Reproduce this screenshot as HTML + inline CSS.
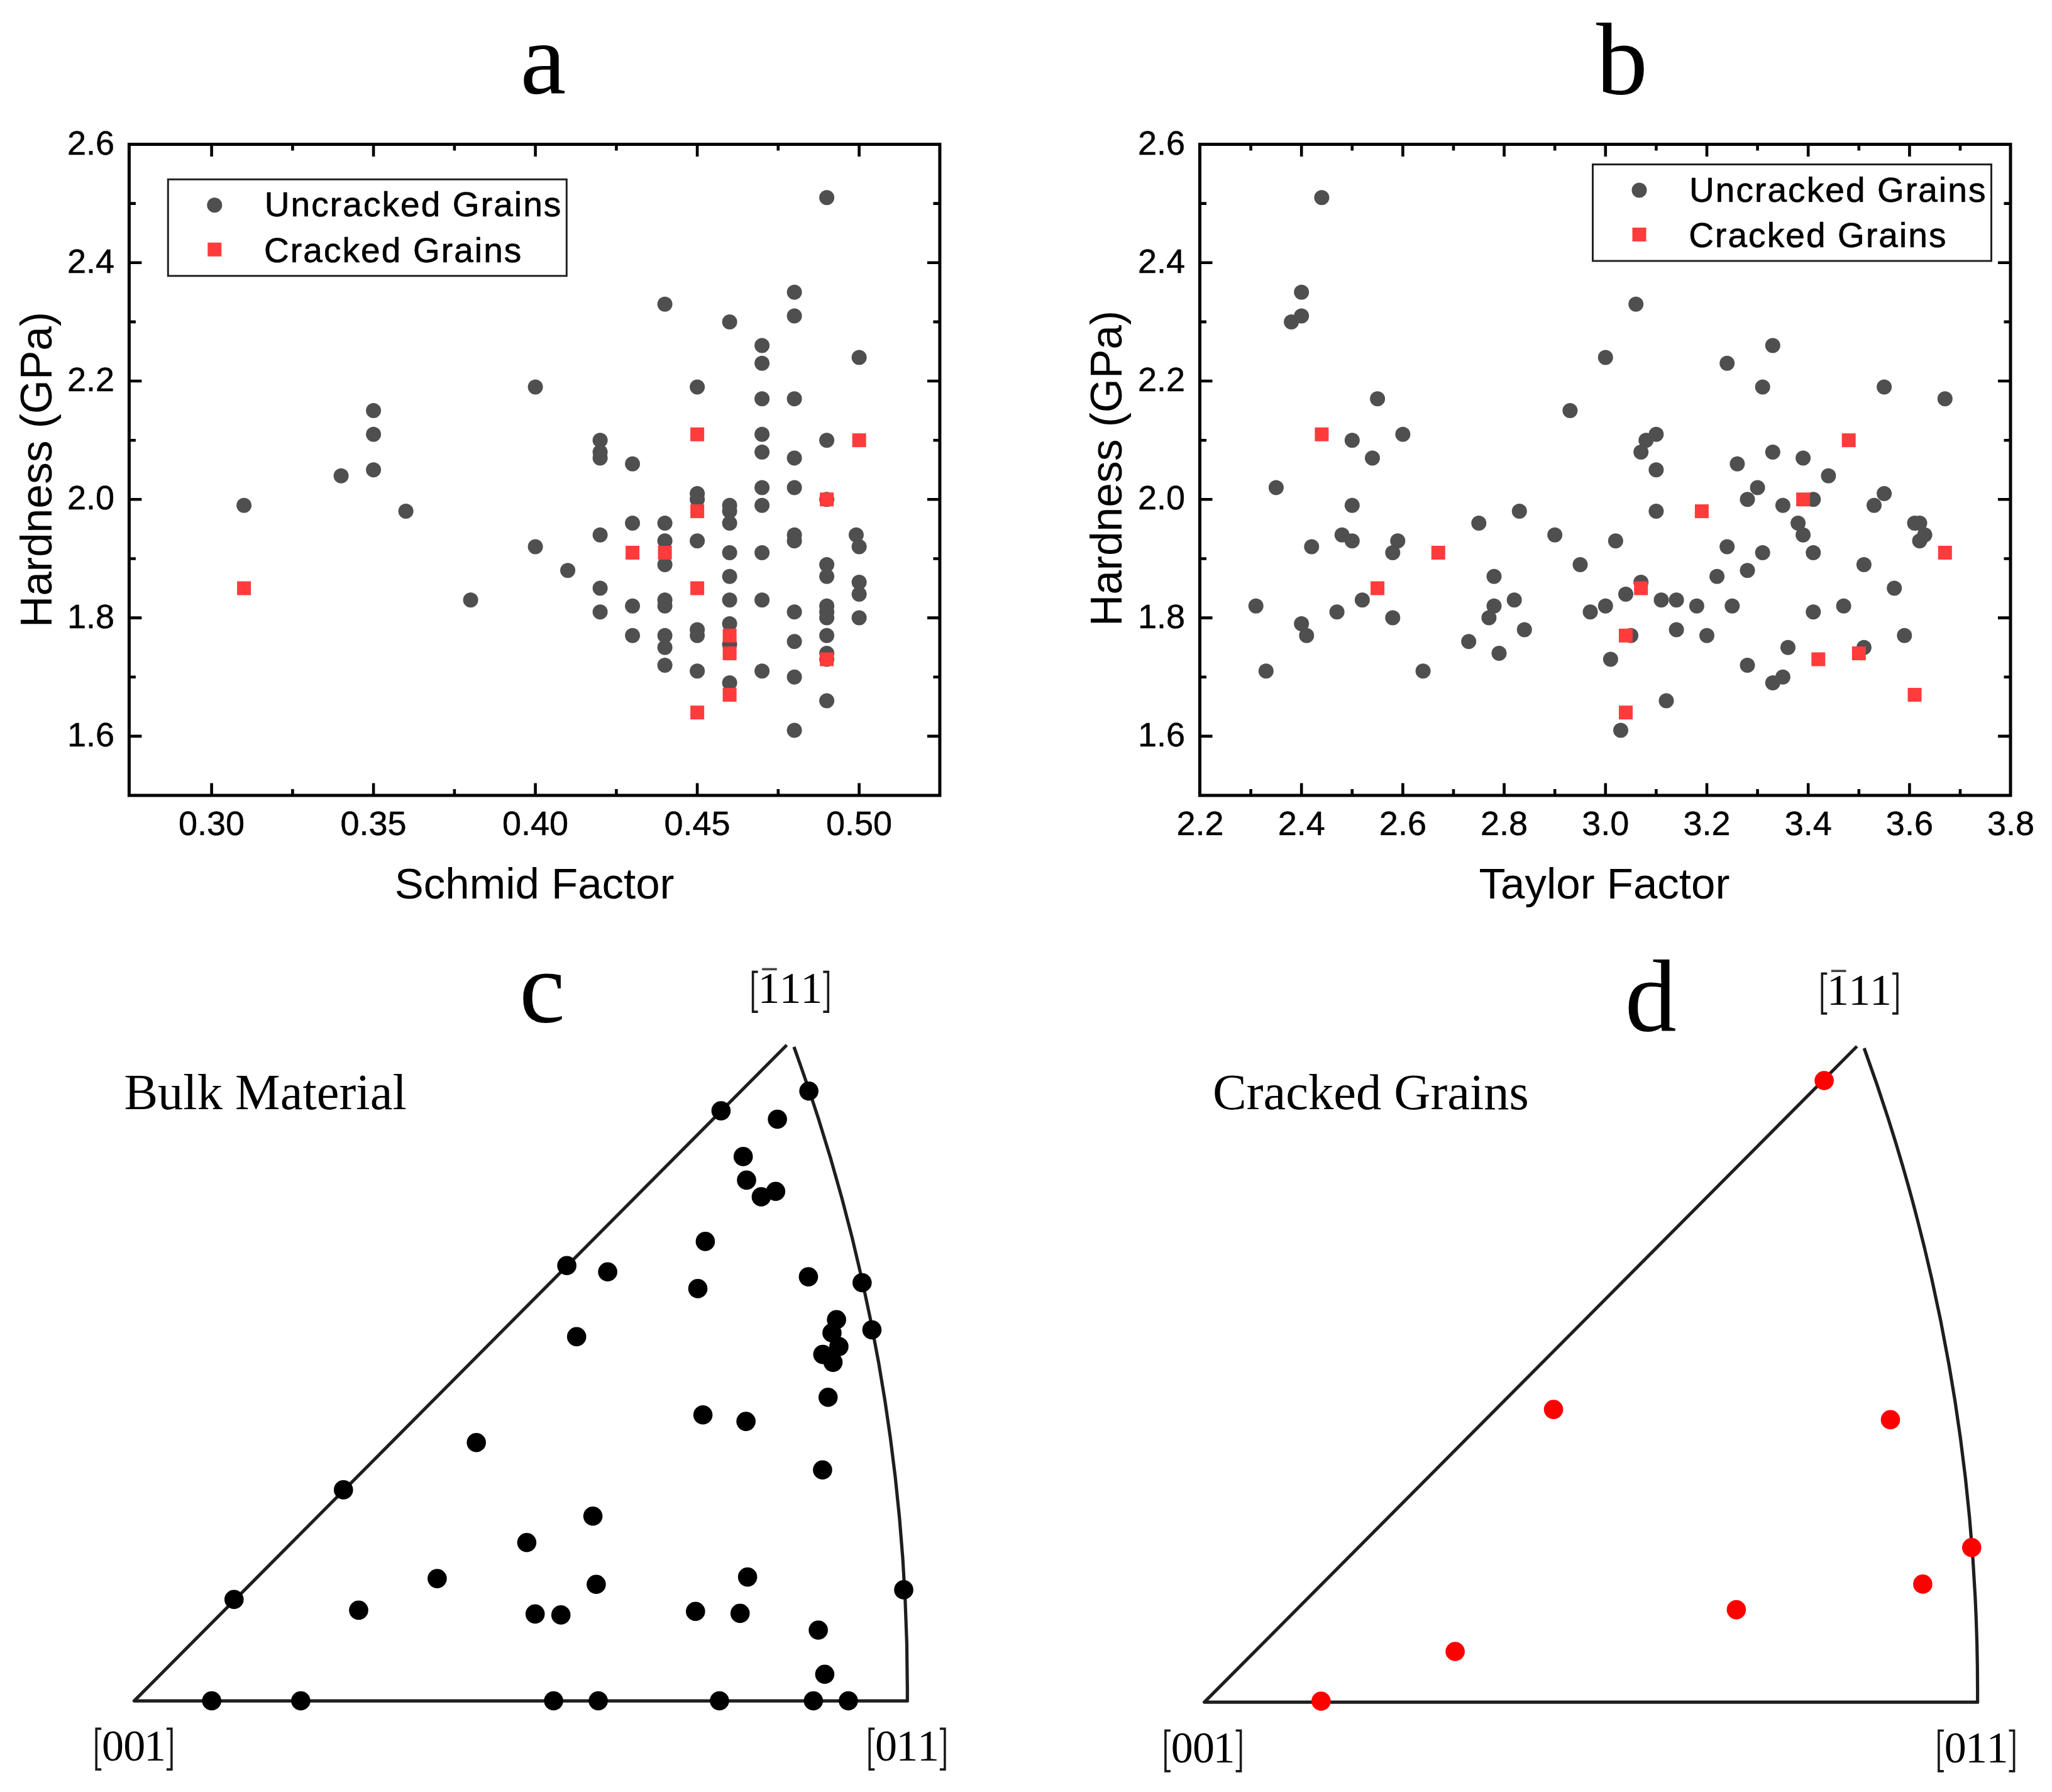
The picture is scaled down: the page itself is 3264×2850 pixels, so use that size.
<!DOCTYPE html>
<html><head><meta charset="utf-8"><style>html,body{margin:0;padding:0;background:#fff;}svg{display:block;}</style></head>
<body><svg width="3264" height="2850" viewBox="0 0 3264 2850"><rect x="205.4" y="229.5" width="1289.5" height="1035.5" fill="none" stroke="#000" stroke-width="5.0"/>
<path d="M336.6 1265.0V1245.5M336.6 229.5V249.0M594.1 1265.0V1245.5M594.1 229.5V249.0M851.6 1265.0V1245.5M851.6 229.5V249.0M1109.1 1265.0V1245.5M1109.1 229.5V249.0M1366.6 1265.0V1245.5M1366.6 229.5V249.0M465.4 1265.0V1255.0M465.4 229.5V239.5M722.9 1265.0V1255.0M722.9 229.5V239.5M980.4 1265.0V1255.0M980.4 229.5V239.5M1237.8 1265.0V1255.0M1237.8 229.5V239.5M205.4 1170.9H225.4M1494.9 1170.9H1474.9M205.4 982.6H225.4M1494.9 982.6H1474.9M205.4 794.3H225.4M1494.9 794.3H1474.9M205.4 606.0H225.4M1494.9 606.0H1474.9M205.4 417.8H225.4M1494.9 417.8H1474.9M205.4 1076.7H215.9M1494.9 1076.7H1484.4M205.4 888.5H215.9M1494.9 888.5H1484.4M205.4 700.2H215.9M1494.9 700.2H1484.4M205.4 511.9H215.9M1494.9 511.9H1484.4M205.4 323.6H215.9M1494.9 323.6H1484.4" stroke="#000" stroke-width="4.6" fill="none"/>
<g font-family='"Liberation Sans", sans-serif' font-size="54" fill="#000" stroke="#000" stroke-width="0.5">
<text x="336.6" y="1327.7" text-anchor="middle">0.30</text>
<text x="594.1" y="1327.7" text-anchor="middle">0.35</text>
<text x="851.6" y="1327.7" text-anchor="middle">0.40</text>
<text x="1109.1" y="1327.7" text-anchor="middle">0.45</text>
<text x="1366.6" y="1327.7" text-anchor="middle">0.50</text>
<text x="182" y="1186.9" text-anchor="end">1.6</text>
<text x="182" y="998.6" text-anchor="end">1.8</text>
<text x="182" y="810.3" text-anchor="end">2.0</text>
<text x="182" y="622.0" text-anchor="end">2.2</text>
<text x="182" y="433.8" text-anchor="end">2.4</text>
<text x="182" y="245.5" text-anchor="end">2.6</text>
</g>
<text x="850.2" y="1429.2" text-anchor="middle" font-family='"Liberation Sans", sans-serif' font-size="69">Schmid Factor</text>
<text transform="translate(82.4 747) rotate(-90)" x="0" y="0" text-anchor="middle" font-family='"Liberation Sans", sans-serif' font-size="69.5">Hardness (GPa)</text>
<rect x="267.3" y="285.3" width="634" height="153.5" fill="none" stroke="#222" stroke-width="3"/>
<circle cx="341.3" cy="326.3" r="12" fill="#4f4f4f"/>
<rect x="330.3" y="385.8" width="22" height="22" fill="#ff3b3b"/>
<g font-family='"Liberation Sans", sans-serif' font-size="55" fill="#000" letter-spacing="2.1" stroke="#000" stroke-width="0.7">
<text x="420.70000000000005" y="344.40000000000003">Uncracked Grains</text>
<text x="420.0" y="416.9">Cracked Grains</text>
</g>
<g fill="#4f4f4f"><circle cx="388.1" cy="803.7" r="12"/><circle cx="542.6" cy="756.7" r="12"/><circle cx="594.1" cy="653.1" r="12"/><circle cx="594.1" cy="690.8" r="12"/><circle cx="594.1" cy="747.3" r="12"/><circle cx="645.6" cy="813.1" r="12"/><circle cx="748.6" cy="954.3" r="12"/><circle cx="851.6" cy="615.5" r="12"/><circle cx="851.6" cy="869.6" r="12"/><circle cx="903.1" cy="907.3" r="12"/><circle cx="954.6" cy="700.2" r="12"/><circle cx="954.6" cy="719.0" r="12"/><circle cx="954.6" cy="728.4" r="12"/><circle cx="954.6" cy="850.8" r="12"/><circle cx="954.6" cy="935.5" r="12"/><circle cx="954.6" cy="973.2" r="12"/><circle cx="1006.1" cy="737.8" r="12"/><circle cx="1006.1" cy="832.0" r="12"/><circle cx="1006.1" cy="963.8" r="12"/><circle cx="1006.1" cy="1010.8" r="12"/><circle cx="1057.6" cy="483.7" r="12"/><circle cx="1057.6" cy="832.0" r="12"/><circle cx="1057.6" cy="860.2" r="12"/><circle cx="1057.6" cy="897.9" r="12"/><circle cx="1057.6" cy="954.3" r="12"/><circle cx="1057.6" cy="963.8" r="12"/><circle cx="1057.6" cy="1010.8" r="12"/><circle cx="1057.6" cy="1029.7" r="12"/><circle cx="1057.6" cy="1057.9" r="12"/><circle cx="1109.1" cy="615.5" r="12"/><circle cx="1109.1" cy="784.9" r="12"/><circle cx="1109.1" cy="794.3" r="12"/><circle cx="1109.1" cy="860.2" r="12"/><circle cx="1109.1" cy="1001.4" r="12"/><circle cx="1109.1" cy="1010.8" r="12"/><circle cx="1109.1" cy="1067.3" r="12"/><circle cx="1160.6" cy="511.9" r="12"/><circle cx="1160.6" cy="803.7" r="12"/><circle cx="1160.6" cy="813.1" r="12"/><circle cx="1160.6" cy="832.0" r="12"/><circle cx="1160.6" cy="879.0" r="12"/><circle cx="1160.6" cy="916.7" r="12"/><circle cx="1160.6" cy="954.3" r="12"/><circle cx="1160.6" cy="992.0" r="12"/><circle cx="1160.6" cy="1025.0" r="12"/><circle cx="1160.6" cy="1086.1" r="12"/><circle cx="1212.1" cy="549.6" r="12"/><circle cx="1212.1" cy="577.8" r="12"/><circle cx="1212.1" cy="634.3" r="12"/><circle cx="1212.1" cy="690.8" r="12"/><circle cx="1212.1" cy="719.0" r="12"/><circle cx="1212.1" cy="775.5" r="12"/><circle cx="1212.1" cy="803.7" r="12"/><circle cx="1212.1" cy="879.0" r="12"/><circle cx="1212.1" cy="954.3" r="12"/><circle cx="1212.1" cy="1067.3" r="12"/><circle cx="1263.6" cy="464.8" r="12"/><circle cx="1263.6" cy="502.5" r="12"/><circle cx="1263.6" cy="634.3" r="12"/><circle cx="1263.6" cy="728.4" r="12"/><circle cx="1263.6" cy="775.5" r="12"/><circle cx="1263.6" cy="850.8" r="12"/><circle cx="1263.6" cy="860.2" r="12"/><circle cx="1263.6" cy="973.2" r="12"/><circle cx="1263.6" cy="1020.2" r="12"/><circle cx="1263.6" cy="1076.7" r="12"/><circle cx="1263.6" cy="1161.4" r="12"/><circle cx="1315.1" cy="314.2" r="12"/><circle cx="1315.1" cy="700.2" r="12"/><circle cx="1315.1" cy="794.3" r="12"/><circle cx="1315.1" cy="897.9" r="12"/><circle cx="1315.1" cy="916.7" r="12"/><circle cx="1315.1" cy="963.8" r="12"/><circle cx="1315.1" cy="973.2" r="12"/><circle cx="1315.1" cy="982.6" r="12"/><circle cx="1315.1" cy="1010.8" r="12"/><circle cx="1315.1" cy="1039.1" r="12"/><circle cx="1315.1" cy="1048.5" r="12"/><circle cx="1315.1" cy="1114.4" r="12"/><circle cx="1366.6" cy="568.4" r="12"/><circle cx="1366.6" cy="869.6" r="12"/><circle cx="1366.6" cy="926.1" r="12"/><circle cx="1366.6" cy="944.9" r="12"/><circle cx="1366.6" cy="982.6" r="12"/><circle cx="1361.9" cy="850.8" r="12"/></g>
<g fill="#ff3b3b"><rect x="377.1" y="924.5" width="22" height="22"/><rect x="995.1" y="868.0" width="22" height="22"/><rect x="1046.6" y="868.0" width="22" height="22"/><rect x="1098.1" y="679.8" width="22" height="22"/><rect x="1098.1" y="802.1" width="22" height="22"/><rect x="1098.1" y="924.5" width="22" height="22"/><rect x="1098.1" y="1122.2" width="22" height="22"/><rect x="1149.6" y="999.8" width="22" height="22"/><rect x="1149.6" y="1028.1" width="22" height="22"/><rect x="1149.6" y="1094.0" width="22" height="22"/><rect x="1304.1" y="783.3" width="22" height="22"/><rect x="1304.1" y="1037.5" width="22" height="22"/><rect x="1355.6" y="689.2" width="22" height="22"/></g>
<rect x="1908.5" y="229.5" width="1289.5" height="1035.5" fill="none" stroke="#000" stroke-width="5.0"/>
<path d="M2070.2 1265.0V1245.5M2070.2 229.5V249.0M2231.4 1265.0V1245.5M2231.4 229.5V249.0M2392.6 1265.0V1245.5M2392.6 229.5V249.0M2553.8 1265.0V1245.5M2553.8 229.5V249.0M2715.0 1265.0V1245.5M2715.0 229.5V249.0M2876.2 1265.0V1245.5M2876.2 229.5V249.0M3037.4 1265.0V1245.5M3037.4 229.5V249.0M1989.6 1265.0V1255.0M1989.6 229.5V239.5M2150.8 1265.0V1255.0M2150.8 229.5V239.5M2312.0 1265.0V1255.0M2312.0 229.5V239.5M2473.2 1265.0V1255.0M2473.2 229.5V239.5M2634.4 1265.0V1255.0M2634.4 229.5V239.5M2795.6 1265.0V1255.0M2795.6 229.5V239.5M2956.8 1265.0V1255.0M2956.8 229.5V239.5M3118.0 1265.0V1255.0M3118.0 229.5V239.5M1908.5 1170.9H1928.5M3198.0 1170.9H3178.0M1908.5 982.6H1928.5M3198.0 982.6H3178.0M1908.5 794.3H1928.5M3198.0 794.3H3178.0M1908.5 606.0H1928.5M3198.0 606.0H3178.0M1908.5 417.8H1928.5M3198.0 417.8H3178.0M1908.5 1076.7H1919.0M3198.0 1076.7H3187.5M1908.5 888.5H1919.0M3198.0 888.5H3187.5M1908.5 700.2H1919.0M3198.0 700.2H3187.5M1908.5 511.9H1919.0M3198.0 511.9H3187.5M1908.5 323.6H1919.0M3198.0 323.6H3187.5" stroke="#000" stroke-width="4.6" fill="none"/>
<g font-family='"Liberation Sans", sans-serif' font-size="54" fill="#000" stroke="#000" stroke-width="0.5">
<text x="1909.0" y="1327.7" text-anchor="middle">2.2</text>
<text x="2070.2" y="1327.7" text-anchor="middle">2.4</text>
<text x="2231.4" y="1327.7" text-anchor="middle">2.6</text>
<text x="2392.6" y="1327.7" text-anchor="middle">2.8</text>
<text x="2553.8" y="1327.7" text-anchor="middle">3.0</text>
<text x="2715.0" y="1327.7" text-anchor="middle">3.2</text>
<text x="2876.2" y="1327.7" text-anchor="middle">3.4</text>
<text x="3037.4" y="1327.7" text-anchor="middle">3.6</text>
<text x="3198.6" y="1327.7" text-anchor="middle">3.8</text>
<text x="1885" y="1186.9" text-anchor="end">1.6</text>
<text x="1885" y="998.6" text-anchor="end">1.8</text>
<text x="1885" y="810.3" text-anchor="end">2.0</text>
<text x="1885" y="622.0" text-anchor="end">2.2</text>
<text x="1885" y="433.8" text-anchor="end">2.4</text>
<text x="1885" y="245.5" text-anchor="end">2.6</text>
</g>
<text x="2552" y="1429.2" text-anchor="middle" font-family='"Liberation Sans", sans-serif' font-size="69">Taylor Factor</text>
<text transform="translate(1783.5 745) rotate(-90)" x="0" y="0" text-anchor="middle" font-family='"Liberation Sans", sans-serif' font-size="69.5">Hardness (GPa)</text>
<rect x="2533.5" y="261.5" width="634" height="153.5" fill="none" stroke="#222" stroke-width="3"/>
<circle cx="2607.5" cy="302.5" r="12" fill="#4f4f4f"/>
<rect x="2596.5" y="362.0" width="22" height="22" fill="#ff3b3b"/>
<g font-family='"Liberation Sans", sans-serif' font-size="55" fill="#000" letter-spacing="2.1" stroke="#000" stroke-width="0.7">
<text x="2686.9" y="320.6">Uncracked Grains</text>
<text x="2686.2" y="393.1">Cracked Grains</text>
</g>
<g fill="#4f4f4f"><circle cx="1997.7" cy="963.8" r="12"/><circle cx="2013.8" cy="1067.3" r="12"/><circle cx="2029.9" cy="775.5" r="12"/><circle cx="2054.1" cy="511.9" r="12"/><circle cx="2070.2" cy="464.8" r="12"/><circle cx="2070.2" cy="502.5" r="12"/><circle cx="2070.2" cy="992.0" r="12"/><circle cx="2078.3" cy="1010.8" r="12"/><circle cx="2086.3" cy="869.6" r="12"/><circle cx="2102.4" cy="314.2" r="12"/><circle cx="2126.6" cy="973.2" r="12"/><circle cx="2134.7" cy="850.8" r="12"/><circle cx="2150.8" cy="700.2" r="12"/><circle cx="2150.8" cy="803.7" r="12"/><circle cx="2150.8" cy="860.2" r="12"/><circle cx="2166.9" cy="954.3" r="12"/><circle cx="2183.0" cy="728.4" r="12"/><circle cx="2191.1" cy="634.3" r="12"/><circle cx="2215.3" cy="879.0" r="12"/><circle cx="2215.3" cy="982.6" r="12"/><circle cx="2223.3" cy="860.2" r="12"/><circle cx="2231.4" cy="690.8" r="12"/><circle cx="2263.6" cy="1067.3" r="12"/><circle cx="2336.2" cy="1020.2" r="12"/><circle cx="2352.3" cy="832.0" r="12"/><circle cx="2368.4" cy="982.6" r="12"/><circle cx="2376.5" cy="916.7" r="12"/><circle cx="2376.5" cy="963.8" r="12"/><circle cx="2384.5" cy="1039.1" r="12"/><circle cx="2408.7" cy="954.3" r="12"/><circle cx="2416.8" cy="813.1" r="12"/><circle cx="2424.8" cy="1001.4" r="12"/><circle cx="2473.2" cy="850.8" r="12"/><circle cx="2497.4" cy="653.1" r="12"/><circle cx="2513.5" cy="897.9" r="12"/><circle cx="2529.6" cy="973.2" r="12"/><circle cx="2553.8" cy="568.4" r="12"/><circle cx="2553.8" cy="963.8" r="12"/><circle cx="2561.9" cy="1048.5" r="12"/><circle cx="2569.9" cy="860.2" r="12"/><circle cx="2578.0" cy="1161.4" r="12"/><circle cx="2586.0" cy="944.9" r="12"/><circle cx="2594.1" cy="1010.8" r="12"/><circle cx="2602.2" cy="483.7" r="12"/><circle cx="2610.2" cy="719.0" r="12"/><circle cx="2610.2" cy="926.1" r="12"/><circle cx="2618.3" cy="700.2" r="12"/><circle cx="2634.4" cy="690.8" r="12"/><circle cx="2634.4" cy="747.3" r="12"/><circle cx="2634.4" cy="813.1" r="12"/><circle cx="2642.5" cy="954.3" r="12"/><circle cx="2650.5" cy="1114.4" r="12"/><circle cx="2666.6" cy="954.3" r="12"/><circle cx="2666.6" cy="1001.4" r="12"/><circle cx="2698.9" cy="963.8" r="12"/><circle cx="2715.0" cy="1010.8" r="12"/><circle cx="2731.1" cy="916.7" r="12"/><circle cx="2747.2" cy="577.8" r="12"/><circle cx="2747.2" cy="869.6" r="12"/><circle cx="2755.3" cy="963.8" r="12"/><circle cx="2763.4" cy="737.8" r="12"/><circle cx="2779.5" cy="794.3" r="12"/><circle cx="2779.5" cy="907.3" r="12"/><circle cx="2779.5" cy="1057.9" r="12"/><circle cx="2795.6" cy="775.5" r="12"/><circle cx="2803.7" cy="615.5" r="12"/><circle cx="2803.7" cy="879.0" r="12"/><circle cx="2819.8" cy="549.6" r="12"/><circle cx="2819.8" cy="719.0" r="12"/><circle cx="2819.8" cy="1086.1" r="12"/><circle cx="2835.9" cy="803.7" r="12"/><circle cx="2835.9" cy="1076.7" r="12"/><circle cx="2844.0" cy="1029.7" r="12"/><circle cx="2860.1" cy="832.0" r="12"/><circle cx="2868.1" cy="728.4" r="12"/><circle cx="2868.1" cy="850.8" r="12"/><circle cx="2884.3" cy="794.3" r="12"/><circle cx="2884.3" cy="879.0" r="12"/><circle cx="2884.3" cy="973.2" r="12"/><circle cx="2908.4" cy="756.7" r="12"/><circle cx="2932.6" cy="963.8" r="12"/><circle cx="2964.9" cy="1029.7" r="12"/><circle cx="2964.9" cy="897.9" r="12"/><circle cx="2981.0" cy="803.7" r="12"/><circle cx="2997.1" cy="615.5" r="12"/><circle cx="2997.1" cy="784.9" r="12"/><circle cx="3013.2" cy="935.5" r="12"/><circle cx="3029.3" cy="1010.8" r="12"/><circle cx="3045.5" cy="832.0" r="12"/><circle cx="3053.5" cy="832.0" r="12"/><circle cx="3061.6" cy="850.8" r="12"/><circle cx="3053.5" cy="860.2" r="12"/><circle cx="3093.8" cy="634.3" r="12"/></g>
<g fill="#ff3b3b"><rect x="2091.4" y="679.8" width="22" height="22"/><rect x="2180.1" y="924.5" width="22" height="22"/><rect x="2276.8" y="868.0" width="22" height="22"/><rect x="2575.0" y="999.8" width="22" height="22"/><rect x="2575.0" y="1122.2" width="22" height="22"/><rect x="2599.2" y="924.5" width="22" height="22"/><rect x="2695.9" y="802.1" width="22" height="22"/><rect x="2857.1" y="783.3" width="22" height="22"/><rect x="2881.3" y="1037.5" width="22" height="22"/><rect x="2929.7" y="689.2" width="22" height="22"/><rect x="2945.8" y="1028.1" width="22" height="22"/><rect x="3034.5" y="1094.0" width="22" height="22"/><rect x="3082.8" y="868.0" width="22" height="22"/></g>
<g font-family='"Liberation Serif", serif' font-size="164" fill="#000">
<text x="827.6" y="148.1">a</text>
<text x="2539" y="148.6">b</text>
<text x="826" y="1625.4">c</text>
<text x="2584.8" y="1639">d</text>
</g>
<path d="M1251.5 1662.0L213.4 2705.2H1443.3V2685.9A2990.76 2990.76 0 0 0 1262.9 1665.0" fill="none" stroke="#1e1e1e" stroke-width="5.2" stroke-linejoin="round"/>
<g fill="#000"><circle cx="1286.6" cy="1735.3" r="15.3"/><circle cx="1146.9" cy="1766.6" r="15.3"/><circle cx="1236.6" cy="1780.0" r="15.3"/><circle cx="1182.2" cy="1839.4" r="15.3"/><circle cx="1187.5" cy="1876.9" r="15.3"/><circle cx="1210.9" cy="1903.4" r="15.3"/><circle cx="1233.8" cy="1894.7" r="15.3"/><circle cx="1121.9" cy="1974.4" r="15.3"/><circle cx="901.6" cy="2012.8" r="15.3"/><circle cx="966.6" cy="2022.8" r="15.3"/><circle cx="1110.0" cy="2049.4" r="15.3"/><circle cx="1285.9" cy="2030.6" r="15.3"/><circle cx="1371.3" cy="2040.0" r="15.3"/><circle cx="1386.9" cy="2115.0" r="15.3"/><circle cx="917.2" cy="2125.9" r="15.3"/><circle cx="1330.6" cy="2098.8" r="15.3"/><circle cx="1323.4" cy="2119.7" r="15.3"/><circle cx="1334.4" cy="2141.6" r="15.3"/><circle cx="1308.8" cy="2154.1" r="15.3"/><circle cx="1325.0" cy="2166.6" r="15.3"/><circle cx="1317.2" cy="2222.2" r="15.3"/><circle cx="1118.1" cy="2250.3" r="15.3"/><circle cx="1186.6" cy="2260.6" r="15.3"/><circle cx="1308.4" cy="2337.8" r="15.3"/><circle cx="943.1" cy="2411.3" r="15.3"/><circle cx="948.4" cy="2519.7" r="15.3"/><circle cx="1189.1" cy="2508.1" r="15.3"/><circle cx="1437.5" cy="2528.4" r="15.3"/><circle cx="851.2" cy="2566.9" r="15.3"/><circle cx="892.2" cy="2568.4" r="15.3"/><circle cx="1106.3" cy="2562.8" r="15.3"/><circle cx="1177.2" cy="2565.9" r="15.3"/><circle cx="1301.6" cy="2592.5" r="15.3"/><circle cx="1311.9" cy="2662.8" r="15.3"/><circle cx="757.7" cy="2294.2" r="15.3"/><circle cx="546.3" cy="2369.4" r="15.3"/><circle cx="837.9" cy="2453.2" r="15.3"/><circle cx="695.4" cy="2510.6" r="15.3"/><circle cx="372.3" cy="2543.7" r="15.3"/><circle cx="570.5" cy="2560.9" r="15.3"/><circle cx="336.7" cy="2705.0" r="15.3"/><circle cx="478.4" cy="2705.0" r="15.3"/><circle cx="880.6" cy="2705.0" r="15.3"/><circle cx="951.6" cy="2705.0" r="15.3"/><circle cx="1144.4" cy="2705.0" r="15.3"/><circle cx="1293.8" cy="2705.0" r="15.3"/><circle cx="1349.4" cy="2705.0" r="15.3"/></g>
<path d="M161.2 2749.4H153.2V2814.1H161.2M264.9 2749.4H272.9V2814.1H264.9" fill="none" stroke="#1a1a1a" stroke-width="3.6"/>
<g font-family='"Liberation Serif", serif' font-size="70" fill="#000"><text x="179.5" y="2800.4" text-anchor="middle">0</text><text x="213.7" y="2800.4" text-anchor="middle">0</text><text x="246.4" y="2800.4" text-anchor="middle">1</text></g>
<path d="M1391.2 2749.4H1383.2V2814.1H1391.2M1494.9 2749.4H1502.9V2814.1H1494.9" fill="none" stroke="#1a1a1a" stroke-width="3.6"/>
<g font-family='"Liberation Serif", serif' font-size="70" fill="#000"><text x="1409.5" y="2800.4" text-anchor="middle">0</text><text x="1442.7" y="2800.4" text-anchor="middle">1</text><text x="1476.4" y="2800.4" text-anchor="middle">1</text></g>
<path d="M1205.6 1545.6H1197.6V1609.1000000000001H1205.6M1309.3 1545.6H1317.3V1609.1000000000001H1309.3" fill="none" stroke="#1a1a1a" stroke-width="3.6"/>
<g font-family='"Liberation Serif", serif' font-size="70" fill="#000"><text x="1222.9" y="1594.9" text-anchor="middle">1</text><text x="1257.1" y="1594.9" text-anchor="middle">1</text><text x="1290.8" y="1594.9" text-anchor="middle">1</text></g>
<path d="M1212.1 1541.4H1235.8" stroke="#444" stroke-width="3.6"/>
<text x="197.4" y="1763.7" font-family='"Liberation Serif", serif' font-size="80.5" fill="#000">Bulk Material</text>
<path d="M2953.8 1664.0L1915.7 2707.2H3145.6V2687.9A2990.76 2990.76 0 0 0 2965.2 1667.0" fill="none" stroke="#1e1e1e" stroke-width="5.2" stroke-linejoin="round"/>
<g fill="#ff0000"><circle cx="2901.6" cy="1718.5" r="15.3"/><circle cx="2471.1" cy="2241.6" r="15.3"/><circle cx="3007.0" cy="2257.9" r="15.3"/><circle cx="3136.3" cy="2461.3" r="15.3"/><circle cx="3058.4" cy="2519.4" r="15.3"/><circle cx="2761.9" cy="2560.1" r="15.3"/><circle cx="2314.6" cy="2626.5" r="15.3"/><circle cx="2101.4" cy="2705.5" r="15.3"/></g>
<path d="M1861.9 2752.2000000000003H1853.9V2816.9H1861.9M1965.6000000000001 2752.2000000000003H1973.6000000000001V2816.9H1965.6000000000001" fill="none" stroke="#1a1a1a" stroke-width="3.6"/>
<g font-family='"Liberation Serif", serif' font-size="70" fill="#000"><text x="1880.2" y="2803.2000000000003" text-anchor="middle">0</text><text x="1914.4" y="2803.2000000000003" text-anchor="middle">0</text><text x="1947.1" y="2803.2000000000003" text-anchor="middle">1</text></g>
<path d="M3091.9 2752.2000000000003H3083.9V2816.9H3091.9M3195.6 2752.2000000000003H3203.6V2816.9H3195.6" fill="none" stroke="#1a1a1a" stroke-width="3.6"/>
<g font-family='"Liberation Serif", serif' font-size="70" fill="#000"><text x="3110.2" y="2803.2000000000003" text-anchor="middle">0</text><text x="3143.4" y="2803.2000000000003" text-anchor="middle">1</text><text x="3177.1" y="2803.2000000000003" text-anchor="middle">1</text></g>
<path d="M2906.3 1548.3999999999999H2898.3V1611.9H2906.3M3010.0 1548.3999999999999H3018.0V1611.9H3010.0" fill="none" stroke="#1a1a1a" stroke-width="3.6"/>
<g font-family='"Liberation Serif", serif' font-size="70" fill="#000"><text x="2923.6" y="1597.7" text-anchor="middle">1</text><text x="2957.8" y="1597.7" text-anchor="middle">1</text><text x="2991.5" y="1597.7" text-anchor="middle">1</text></g>
<path d="M2912.8 1544.2H2936.5" stroke="#444" stroke-width="3.6"/>
<text x="1929" y="1763.7" font-family='"Liberation Serif", serif' font-size="80.5" fill="#000">Cracked Grains</text></svg></body></html>
